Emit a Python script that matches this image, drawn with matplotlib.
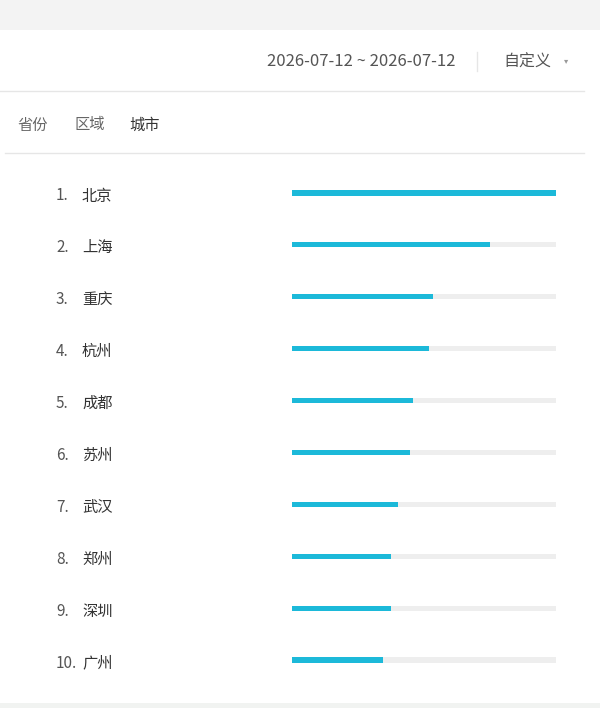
import matplotlib.pyplot as plt
from matplotlib.patches import Rectangle

plt.rcParams['font.family'] = ['Noto Sans CJK SC', 'DejaVu Sans']

# ranking data (share of the top city, in %)
ranks = ['1.', '2.', '3.', '4.', '5.', '6.', '7.', '8.', '9.', '10.']
cities = ['北京', '上海', '重庆', '杭州', '成都', '苏州', '武汉', '郑州', '深圳', '广州']
values = [100, 75, 53.5, 52, 46, 44.7, 40, 37.5, 37.5, 34.5]
tabs = ['省份', '区域', '城市']
date_range = '2026-07-12 ~ 2026-07-12'
period = '自定义'

bar_color = '#1cb9d9'
track_color = '#eeeeee'

fig = plt.figure(figsize=(6, 7.08), dpi=100)
fig.patch.set_facecolor('white')

# background / chrome in pixel coords
bg = fig.add_axes([0, 0, 1, 1])
bg.set_xlim(0, 600)
bg.set_ylim(708, 0)
bg.axis('off')

bg.add_patch(Rectangle((0, 0), 600, 30, color='#f3f3f3', lw=0))
bg.add_patch(Rectangle((0, 703), 600, 5, color='#f1f3f1', lw=0))
bg.plot([0, 584], [91, 91], color='#e6e6e6', lw=1)
bg.plot([5, 584], [153, 153], color='#e6e6e6', lw=1)
bg.plot([477, 477], [52, 71], color='#e6e6e6', lw=1)

bg.text(361, 62, date_range, fontsize=12, color='#555555', ha='center', va='center')
bg.text(527, 62, period, fontsize=11.5, color='#555555', ha='center', va='center')
bg.text(566, 61, '▾', fontsize=6, color='#999999', ha='center', va='center',
        family=['DejaVu Sans'])

tab_x = [17, 74, 129]
tab_colors = ['#666666', '#666666', '#333333']
for t, x, c in zip(tabs, tab_x, tab_colors):
    bg.text(x, 125, t, fontsize=11, color=c, ha='left', va='center')

for i, (r, c) in enumerate(zip(ranks, cities)):
    y = 193 + 51.9 * i
    bg.text(56, y + 3, r, fontsize=11, color='#555555', ha='left', va='center')
    bg.text(82, y + 3, c, fontsize=11, color='#333333', ha='left', va='center')

# bar chart area
ax = fig.add_axes([292 / 600, (708 - 686) / 708, 264 / 600, (686 - 167) / 708])
ax.set_facecolor('none')
pos = list(range(len(cities)))
ax.barh(pos, [100] * len(cities), height=0.1, color=track_color, lw=0)
ax.barh(pos, values, height=0.1, color=bar_color, lw=0)
ax.set_xlim(0, 100)
ax.set_ylim(len(cities) - 0.5, -0.5)
ax.axis('off')

fig.savefig('out.png', dpi=100)
